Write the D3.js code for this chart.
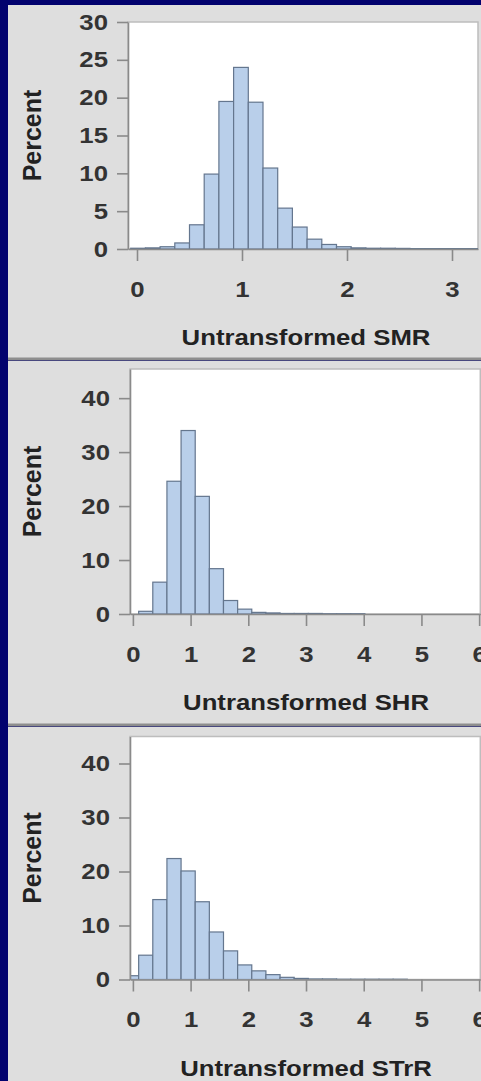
<!DOCTYPE html>
<html>
<head>
<meta charset="utf-8">
<script src="https://cdn.jsdelivr.net/npm/d3@7"></script>
<style>
  html, body { margin: 0; padding: 0; background: #02026e; }
  svg { display: block; }
</style>
</head>
<body>
<svg id="chart" width="481" height="1081"></svg>
<script>
// Percent of units per bin for each standardized ratio
const smrBinStart = -0.06;
const smrBinWidth = 0.14;
const smrPercent = [0.1, 0.15, 0.3, 0.8, 3.2, 9.9, 19.5, 24.0, 19.4, 10.7, 5.4, 2.9,
                    1.3, 0.6, 0.3, 0.15, 0.1, 0.1, 0.08, 0.05, 0.05, 0.05, 0.05, 0.05];

const shrBinStart = -0.145;
const shrBinWidth = 0.245;
const shrPercent = [0, 0.5, 5.9, 24.6, 34.0, 21.8, 8.4, 2.5, 0.9, 0.3, 0.2, 0.1,
                    0.1, 0.1, 0.05, 0.05, 0.05];

const strrBinStart = -0.145;
const strrBinWidth = 0.245;
const strrPercent = [0.7, 4.5, 14.8, 22.4, 20.1, 14.4, 8.8, 5.3, 2.7, 1.6, 0.9, 0.4,
                     0.2, 0.1, 0.1, 0.05, 0.05, 0.05, 0.05, 0.05];

const smrXTicks = [0, 1, 2, 3];
const smrYTicks = [0, 5, 10, 15, 20, 25, 30];
const shrXTicks = [0, 1, 2, 3, 4, 5, 6];
const shrYTicks = [0, 10, 20, 30, 40];
const strrXTicks = [0, 1, 2, 3, 4, 5, 6];
const strrYTicks = [0, 10, 20, 30, 40];

const xTitles = ["Untransformed SMR", "Untransformed SHR", "Untransformed STrR"];
const yTitle = "Percent";

// Layout of the three stacked panels
const panels = [
  { top: 5, bottom: 359, plot: { l: 128, r: 478, t: 22, b: 249 },
    xDomain: [-0.0857, 3.2476], yDomain: [0, 30],
    start: smrBinStart, width: smrBinWidth, values: smrPercent,
    xTicks: smrXTicks, yTicks: smrYTicks, title: xTitles[0], titleY: 345 },
  { top: 361, bottom: 725, plot: { l: 130, r: 480.3, t: 369, b: 614 },
    xDomain: [-0.05, 6.02], yDomain: [0, 45.4],
    start: shrBinStart, width: shrBinWidth, values: shrPercent,
    xTicks: shrXTicks, yTicks: shrYTicks, title: xTitles[1], titleY: 710 },
  { top: 727, bottom: 1081, plot: { l: 130, r: 480.3, t: 736.5, b: 979.5 },
    xDomain: [-0.05, 6.02], yDomain: [0, 45],
    start: strrBinStart, width: strrBinWidth, values: strrPercent,
    xTicks: strrXTicks, yTicks: strrYTicks, title: xTitles[2], titleY: 1076 }
];

const FONT = "'Liberation Sans', Arial, Helvetica, sans-serif";
const STRETCH = 1.17;
const svg = d3.select("#chart");

// Navy slide background
svg.append("rect").attr("width", 481).attr("height", 1081).attr("fill", "#02026e");

panels.forEach((p, i) => {
  const g = svg.append("g");

  // Light gray panel
  g.append("rect")
    .attr("x", 8).attr("y", p.top)
    .attr("width", 481 - 8).attr("height", p.bottom - p.top)
    .attr("fill", "#dedede");

  // Divider under each panel except the last
  if (i < panels.length - 1) {
    g.append("rect")
      .attr("x", 8).attr("y", p.bottom - 1.5)
      .attr("width", 473).attr("height", 3)
      .attr("fill", "#8e8e8e");
  }

  const x = d3.scaleLinear().domain(p.xDomain).range([p.plot.l, p.plot.r]);
  const y = d3.scaleLinear().domain(p.yDomain).range([p.plot.b, p.plot.t]);

  // White plot area
  g.append("rect")
    .attr("x", p.plot.l).attr("y", p.plot.t)
    .attr("width", p.plot.r - p.plot.l).attr("height", p.plot.b - p.plot.t)
    .attr("fill", "#ffffff")
    .attr("stroke", "#bdbdbd").attr("stroke-width", 1.5);

  const clipId = "clip" + i;
  svg.append("clipPath").attr("id", clipId)
    .append("rect")
    .attr("x", p.plot.l).attr("y", p.plot.t)
    .attr("width", p.plot.r - p.plot.l).attr("height", p.plot.b - p.plot.t);

  // Histogram bars
  const bins = p.values.map((v, k) => ({
    x0: p.start + k * p.width,
    x1: p.start + (k + 1) * p.width,
    v
  })).filter(d => d.v > 0);

  g.append("g").attr("clip-path", `url(#${clipId})`)
    .selectAll("rect")
    .data(bins)
    .join("rect")
    .attr("x", d => x(d.x0))
    .attr("width", d => x(d.x1) - x(d.x0))
    .attr("y", d => y(d.v))
    .attr("height", d => y(0) - y(d.v))
    .attr("fill", "#b9cfea")
    .attr("stroke", "#64768e")
    .attr("stroke-width", 1.2);

  // Y axis
  const yAxis = g.append("g")
    .attr("transform", `translate(${p.plot.l},0)`)
    .call(d3.axisLeft(y).tickValues(p.yTicks).tickFormat(d3.format("d"))
      .tickSize(11).tickPadding(9).tickSizeOuter(0));
  // X axis
  const xAxis = g.append("g")
    .attr("transform", `translate(0,${p.plot.b})`)
    .call(d3.axisBottom(x).tickValues(p.xTicks).tickFormat(d3.format("d"))
      .tickSize(12).tickPadding(20).tickSizeOuter(0));

  [yAxis, xAxis].forEach(ax => {
    ax.select(".domain").attr("stroke", "#8a8a8a").attr("stroke-width", 1.6);
    ax.selectAll(".tick line").attr("stroke", "#8a8a8a").attr("stroke-width", 1.6);
    ax.selectAll(".tick text")
      .attr("fill", "#333")
      .attr("font-family", FONT)
      .attr("font-size", 22)
      .attr("font-weight", "bold")
      .attr("transform", function () {
        const tx = +d3.select(this).attr("x") || 0;
        return `translate(${tx},0) scale(${STRETCH},1) translate(${-tx},0)`;
      });
  });

  // X axis title
  g.append("text")
    .attr("transform", `translate(306,${p.titleY}) scale(${STRETCH},1)`)
    .attr("text-anchor", "middle")
    .attr("font-family", FONT)
    .attr("font-size", 22)
    .attr("font-weight", "bold")
    .attr("fill", "#222")
    .text(p.title);

  // Y axis title
  g.append("text")
    .attr("transform", `translate(41,${(p.plot.t + p.plot.b) / 2}) rotate(-90)`)
    .attr("text-anchor", "middle")
    .attr("font-family", FONT)
    .attr("font-size", 25)
    .attr("font-weight", "bold")
    .attr("fill", "#222")
    .text(yTitle);
});
</script>
</body>
</html>
